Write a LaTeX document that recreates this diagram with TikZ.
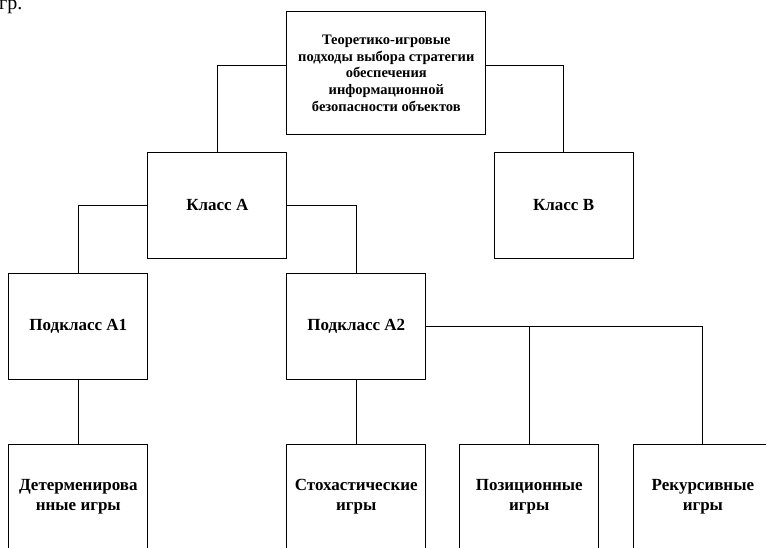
\documentclass[tikz,border=0pt]{standalone}
\usepackage{fontspec}
\setmainfont{Liberation Serif}
\usetikzlibrary{positioning}
\tikzset{rootbox/.style={rectangle,draw=black,fill=white,line width=0.9pt,outer sep=0pt,minimum width=199pt,minimum height=123pt,align=center,font=\fontsize{14.5}{16.8}\selectfont\bfseries}}
\tikzset{classbox/.style={rectangle,draw=black,fill=white,line width=0.9pt,outer sep=0pt,minimum width=139pt,minimum height=106pt,align=center,font=\fontsize{17}{20}\selectfont\bfseries}}
\tikzset{link/.style={line width=0.9pt}}

\begin{document}
\begin{tikzpicture}
\useasboundingbox (0,0) rectangle (766pt,-547pt);
\node (frag) [anchor=base west,inner sep=0pt,font=\fontsize{20}{24}\selectfont] at (-1pt,-9pt) {гр.};
\node (root) [rootbox] at (386.3pt,-73.3pt) {Теоретико-игровые\\подходы выбора стратегии\\обеспечения\\информационной\\безопасности объектов};
\node (clsA) [classbox, below left=17.3pt and 0pt of root.south west] {Класс А};
\node (clsB) [classbox, below right=17.3pt and 8.3pt of root.south east] {Класс В};
\node (subA1) [classbox, below left=15pt and 0pt of clsA.south west] {Подкласс А1};
\node (subA2) [classbox, below right=15pt and 0pt of clsA.south east] {Подкласс А2};
\node (gDet) [classbox, below=65pt of subA1] {Детерменирова\\нные игры};
\node (gSto) [classbox, below=65pt of subA2] {Стохастические\\игры};
\node (gPos) [classbox, right=34pt of gSto] {Позиционные\\игры};
\node (gRec) [classbox, right=34.6pt of gPos] {Рекурсивные\\игры};
\draw [link] ([yshift=7.6pt]root.west) -| (clsA.north);
\draw [link] ([yshift=7.6pt]root.east) -| (clsB.north);
\draw [link] (clsA.west) -| (subA1.north);
\draw [link] (clsA.east) -| (subA2.north);
\draw [link] (subA1) -- (gDet);
\draw [link] (subA2) -- (gSto);
\draw [link] (subA2.east) -| (gPos.north);
\draw [link] (subA2.east) -| (gRec.north);
\end{tikzpicture}
\end{document}
